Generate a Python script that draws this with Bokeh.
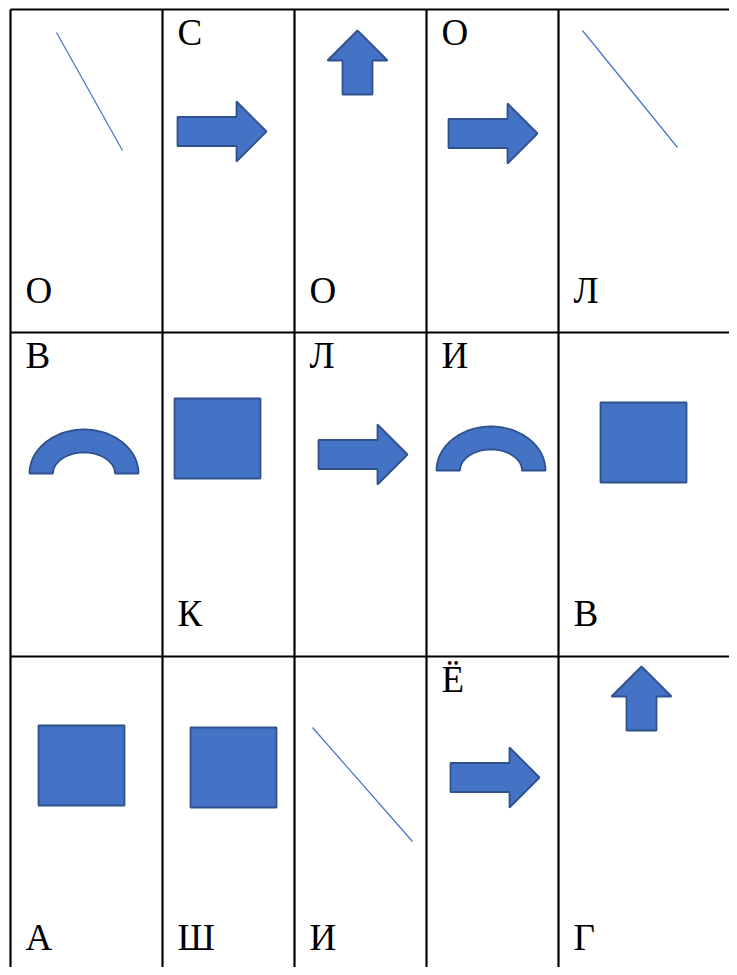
import numpy as np
from bokeh.plotting import figure
from bokeh.models import Range1d, ColumnDataSource
from bokeh.core.properties import value
from bokeh.embed import file_html
from bokeh.resources import INLINE

# ---- data ----
row_letters = [
    ["О", "С", "О", "О", "Л"],
    ["В", "К", "Л", "И", "В"],
    ["А", "Ш", "И", "Ё", "Г"],
]
letter_place = [
    ["bottom", "top", "bottom", "top", "bottom"],
    ["top", "bottom", "top", "top", "bottom"],
    ["bottom", "bottom", "bottom", "top", "bottom"],
]
shape_kind = [
    ["line", "right", "up", "right", "line"],
    ["arc", "square", "right", "arc", "square"],
    ["square", "square", "line", "right", "up"],
]
# shape anchor offsets inside each cell (top-left of bounding box / line start)
shape_offset = [
    [(46, 23), (15, 92), (33, 21), (22, 94), (24, 21)],
    [(19, 97), (12, 66), (24, 92), (10, 94), (42, 70)],
    [(28, 69), (28, 71), (18, 71), (24, 91), (53, 10)],
]
# line end offsets (only used for "line" cells)
line_end = {(0, 0): (112, 141), (0, 4): (119, 138), (2, 2): (118, 185)}

col_edges = [10, 162, 294, 426, 558, 760]
row_edges = [9, 332, 656, 990]

W, H = 729, 967
p = figure(width=W, height=H, output_backend="svg", toolbar_location=None,
           x_range=Range1d(0, W), y_range=Range1d(H, 0),
           min_border=0)
p.axis.visible = False
p.grid.visible = False
p.outline_line_color = None
p.background_fill_color = "white"
p.border_fill_color = "white"

FILL = "#4472C4"
EDGE = "#2F528F"

# table lines
hx0, hx1, hy = [], [], []
for y in row_edges[:-1]:
    hx0.append(col_edges[0]); hx1.append(col_edges[-1]); hy.append(y)
p.segment(x0=hx0, y0=hy, x1=hx1, y1=hy, line_color="black", line_width=2.2)
vx, vy0, vy1 = [], [], []
for x in col_edges[:-1]:
    vx.append(x); vy0.append(row_edges[0]); vy1.append(row_edges[-1])
p.segment(x0=vx, y0=vy0, x1=vx, y1=vy1, line_color="black", line_width=2.2)

# shapes
pxs, pys = [], []
lx0, ly0, lx1, ly1 = [], [], [], []
for r in range(3):
    for c in range(5):
        kind = shape_kind[r][c]
        cx, cy = col_edges[c], row_edges[r]
        ox, oy = shape_offset[r][c]
        x0, y0 = cx + ox, cy + oy
        if kind == "line":
            ex, ey = line_end[(r, c)]
            lx0.append(x0); ly0.append(y0); lx1.append(cx + ex); ly1.append(cy + ey)
        elif kind == "right":
            w, h, sh, hl = 89, 60, 29, 30
            mid = y0 + h / 2
            xs = [x0, x0 + w - hl, x0 + w - hl, x0 + w, x0 + w - hl, x0 + w - hl, x0]
            ys = [mid - sh / 2, mid - sh / 2, y0, mid, y0 + h, mid + sh / 2, mid + sh / 2]
            pxs.append(xs); pys.append(ys)
        elif kind == "up":
            w, h, sw, hl = 60, 64, 30, 30
            midx = x0 + w / 2
            xs = [midx, x0 + w, midx + sw / 2, midx + sw / 2, midx - sw / 2, midx - sw / 2, x0]
            ys = [y0, y0 + hl, y0 + hl, y0 + h, y0 + h, y0 + hl, y0 + hl]
            pxs.append(xs); pys.append(ys)
        elif kind == "square":
            w, h = 86, 80
            pxs.append([x0, x0 + w, x0 + w, x0]); pys.append([y0, y0, y0 + h, y0 + h])
        elif kind == "arc":
            rxo, ryo, rxi, ryi = 54.5, 44, 31, 21
            ccx = x0 + rxo
            base = y0 + ryo
            t = np.linspace(np.pi, 0, 60)
            xs = list(ccx + rxo * np.cos(t)) + list(ccx + rxi * np.cos(t[::-1]))
            ys = list(base - ryo * np.sin(t)) + list(base - ryi * np.sin(t[::-1]))
            pxs.append(xs); pys.append(ys)

p.patches(xs=pxs, ys=pys, fill_color=FILL, line_color=EDGE, line_width=1.8)
p.segment(x0=lx0, y0=ly0, x1=lx1, y1=ly1, line_color=FILL, line_width=1.2)

# letters
tx, ty, tt = [], [], []
for r in range(3):
    for c in range(5):
        tx.append(col_edges[c] + 15)
        if letter_place[r][c] == "top":
            ty.append(row_edges[r] + 23)
        else:
            ty.append(row_edges[r] + 281)
        tt.append(row_letters[r][c])
src = ColumnDataSource(dict(x=tx, y=ty, text=tt))
p.text(x="x", y="y", text="text", source=src, text_font=value("Liberation Serif"),
       text_font_size="37px", text_color="black",
       text_align="left", text_baseline="middle")

open("out.html", "w").write(file_html(p, INLINE))
